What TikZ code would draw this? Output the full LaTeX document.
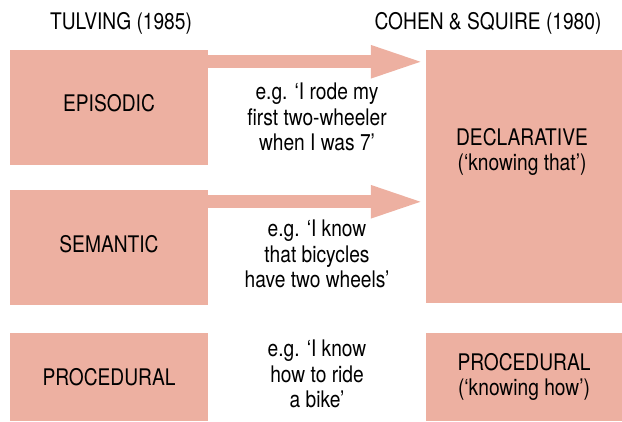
\documentclass[tikz,border=0pt]{standalone}
\usepackage{fontspec}
\setmainfont{TeX Gyre Heros}[FakeStretch=0.84]
\usetikzlibrary{arrows.meta, positioning}
\definecolor{memorypink}{RGB}{237,176,161}

\begin{document}
\begin{tikzpicture}[x=0.03cm, y=0.03cm,
	every node/.style={font=\fontsize{19.5}{22}\selectfont, inner sep=0pt, align=center},
	memorybox/.style={fill=memorypink, minimum width=5.94cm},
	bigarrow/.style={memorypink, line width=0.39cm,
		-{Triangle[length=1.65cm, width=0.87cm]}}]
		\useasboundingbox (0,0) rectangle (622,-421);

		\node (tulving) at (121,-23) {TULVING (1985)};
		\node (cohen) at (488,-23) {COHEN \& SQUIRE (1980)};

		\node [memorybox, minimum height=3.45cm] (episodic) at (109,-107.5) {};
		\node (episodic-text) at (109,-103) {EPISODIC};
		\node [memorybox, minimum height=3.45cm] (semantic) at (109,-247.5) {};
		\node (semantic-text) at (109,-244) {SEMANTIC};
		\node [memorybox, minimum height=2.64cm] (procedural) at (109,-377) {PROCEDURAL};

		\node [memorybox, minimum width=5.88cm, minimum height=7.59cm] (declarative) at (524,-176.5) {};
		\node (declarative-text) at (522,-152) {DECLARATIVE\\(‘knowing that’)};
		\node [memorybox, minimum width=5.88cm, minimum height=2.64cm] (knowhow) at (524,-377) {PROCEDURAL\\(‘knowing how’)};

		\node (episodic-ex) at (317,-117) {e.g. ‘I rode my\\first two-wheeler\\when I was 7’};
		\node (semantic-ex) at (317,-254) {e.g. ‘I know\\that bicycles\\have two wheels’};
		\node (procedural-ex) at (317,-374) {e.g. ‘I know\\how to ride\\a bike’};

		\coordinate (episodic-start) at ([yshift=-0.36cm]episodic.north east);
		\coordinate (episodic-end) at (declarative.west |- episodic-start);
		\draw [bigarrow] (episodic-start) -- (episodic-end);
		\coordinate (semantic-start) at ([yshift=-0.36cm]semantic.north east);
		\coordinate (semantic-end) at (declarative.west |- semantic-start);
		\draw [bigarrow] (semantic-start) -- (semantic-end);
\end{tikzpicture}
\end{document}
